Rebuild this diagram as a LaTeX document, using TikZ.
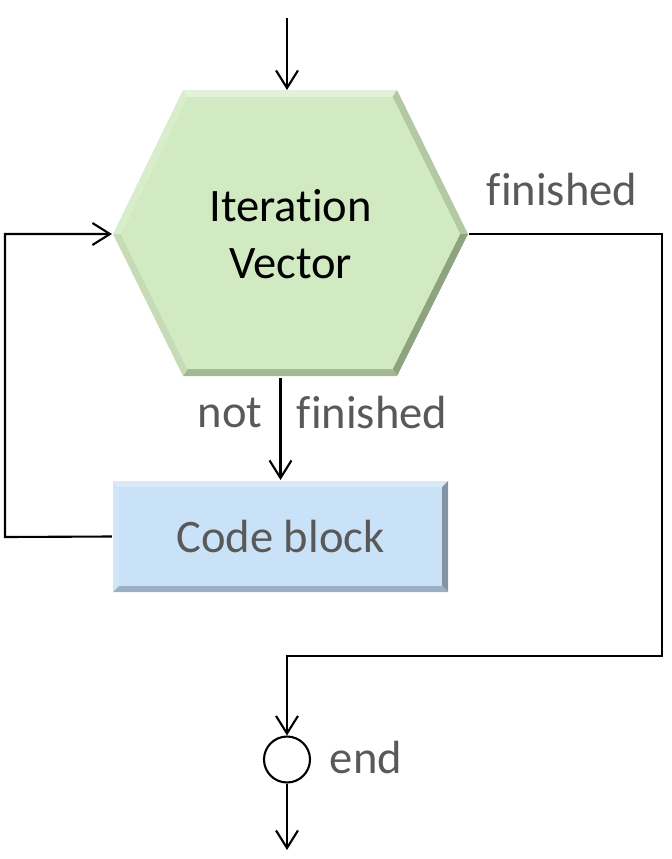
\documentclass[tikz,border=0pt]{standalone}
\usepackage{fontspec}
\setmainfont{Carlito}[Ligatures={NoCommon}]
\usepackage{xcolor}
\definecolor{d2eac2}{HTML}{D2EAC2}
\definecolor{e2f2d8}{HTML}{E2F2D8}
\definecolor{d8edcb}{HTML}{D8EDCB}
\definecolor{b3c9a4}{HTML}{B3C9A4}
\definecolor{8da47f}{HTML}{8DA47F}
\definecolor{a1b892}{HTML}{A1B892}
\definecolor{c6dcb7}{HTML}{C6DCB7}
\definecolor{c9e2f8}{HTML}{C9E2F8}
\definecolor{d9e9f8}{HTML}{D9E9F8}
\definecolor{d0e5f7}{HTML}{D0E5F7}
\definecolor{8494a4}{HTML}{8494A4}
\definecolor{9db0c3}{HTML}{9DB0C3}
\definecolor{595959}{HTML}{595959}
\usepackage{tikz}
\usetikzlibrary{arrows.meta}

\begin{document}
\begin{tikzpicture}[x=0.02cm, y=-0.02cm, line width=1.2pt,
        >={Straight Barb[length=10pt, width=12.5pt]},
        txt/.style={font=\fontsize{26.5}{32.3}\selectfont, inner sep=0pt},
        lbl/.style={txt, text=595959}]
            \useasboundingbox (0, 0) rectangle (672, 859);

            % hexagon with bevel
            \coordinate (o1) at (113, 234);
            \coordinate (o2) at (183, 90);
            \coordinate (o3) at (397, 90);
            \coordinate (o4) at (468, 234);
            \coordinate (o5) at (397, 376);
            \coordinate (o6) at (183, 376);
            \coordinate (i1) at (121, 234);
            \coordinate (i2) at (187.5, 97);
            \coordinate (i3) at (392.5, 97);
            \coordinate (i4) at (460, 234);
            \coordinate (i5) at (392.5, 369);
            \coordinate (i6) at (187.5, 369);
            \foreach \j/\k/\col in {1/2/d8edcb, 2/3/e2f2d8, 3/4/b3c9a4, 4/5/8da47f, 5/6/a1b892, 6/1/c6dcb7}
                \fill[\col] (o\j) -- (o\k) -- (i\k) -- (i\j) -- cycle;
            \fill[d2eac2] (i1) -- (i2) -- (i3) -- (i4) -- (i5) -- (i6) -- cycle;

            % code block with bevel
            \fill[d9e9f8] (113, 481) -- (448, 481) -- (442, 487) -- (119, 487) -- cycle;
            \fill[d0e5f7] (113, 481) -- (119, 487) -- (119, 586) -- (113, 592) -- cycle;
            \fill[8494a4] (448, 481) -- (448, 592) -- (442, 586) -- (442, 487) -- cycle;
            \fill[9db0c3] (113, 592) -- (448, 592) -- (442, 586) -- (119, 586) -- cycle;
            \fill[c9e2f8] (119, 487) rectangle (442, 586);

            \node[txt, align=center, minimum width=7.1cm, minimum height=5.72cm] (iter) at (290.5, 234) {Iteration\\Vector};
            \node[lbl, minimum width=6.7cm, minimum height=2.22cm] (code) at (280.5, 536.5) {Code block};
            \node[draw, circle, minimum size=0.92cm, inner sep=0pt] (stop) at (287, 759.5) {};

            \node[lbl] (fin) at (562, 190) {finished};
            \node[lbl] (nt) at (230, 413) {not};
            \node[lbl] (nfin) at (372, 413) {finished};
            \node[lbl] (endl) at (366, 757) {end};

            \coordinate (start) at (287, 18);
            \coordinate (back) at (5, 537);
            \coordinate (turn) at (662, 656);
            \coordinate (out) at (287, 850);

            \draw[->] (start) to (start |- iter.north);
            \draw[->] (iter.south -| code.north) to (code.north);
            \draw[->] (code.west) -- (back) |- (iter.west);
            \draw[->] (iter.east) -| (turn) -| (stop.north);
            \draw[->] (stop.south) to (out);
        \end{tikzpicture}
\end{document}
